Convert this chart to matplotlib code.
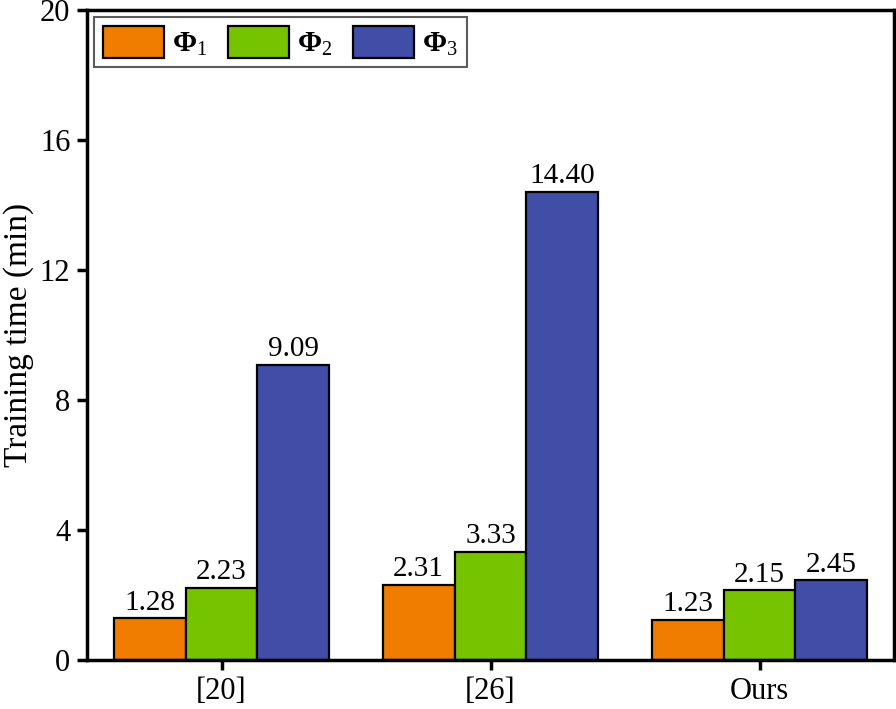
import matplotlib
matplotlib.use("Agg")
import matplotlib.pyplot as plt
import numpy as np

methods = ["[20]", "[26]", "Ours"]
series_names = [r"$\mathbf{\Phi}_1$", r"$\mathbf{\Phi}_2$", r"$\mathbf{\Phi}_3$"]
phi1 = [1.28, 2.31, 1.23]
phi2 = [2.23, 3.33, 2.15]
phi3 = [9.09, 14.40, 2.45]
colors = ["#F07D00", "#76C400", "#404EA8"]

plt.rcParams["font.family"] = ["Liberation Serif", "DejaVu Serif"]
plt.rcParams["mathtext.fontset"] = "custom"
plt.rcParams["mathtext.rm"] = "Liberation Serif"
plt.rcParams["mathtext.bf"] = "Liberation Serif:bold"
plt.rcParams["mathtext.it"] = "Liberation Serif:italic"

fig = plt.figure(figsize=(8.96, 7.09), dpi=100)
ax = fig.add_axes([87 / 896, 1 - 660 / 709, (894 - 87) / 896, (660 - 10) / 709])

x = np.arange(len(methods))
w = 0.267
for i, (vals, name, c) in enumerate(zip([phi1, phi2, phi3], series_names, colors)):
    bars = ax.bar(x + (i - 1) * w, vals, w, color=c, edgecolor="black", linewidth=1.6, label=name)
    for b, v in zip(bars, vals):
        ax.text(b.get_x() + b.get_width() / 2, v + 0.08, f"{v:.2f}", ha="center", va="bottom", fontsize=21)

ax.set_xlim(-0.5, 2.5)
ax.set_ylim(0, 20)
ax.set_yticks([0, 4, 8, 12, 16, 20])
ax.set_xticks(x)
ax.set_xticklabels(methods)
ax.tick_params(axis="both", labelsize=22, width=2.5, length=7, direction="out", pad=5)
ax.set_ylabel("Training time (min)", fontsize=24, labelpad=4)
for s in ax.spines.values():
    s.set_linewidth(2.5)

leg = ax.legend(loc="upper left", ncol=3, fontsize=21, frameon=True, fancybox=False,
                edgecolor="#333333", handlelength=2.1, handleheight=1.3, columnspacing=0.7,
                borderaxespad=0.25, handletextpad=0.27, borderpad=0.3)
leg.get_frame().set_linewidth(1.5)

fig.savefig("out.png", dpi=100)
